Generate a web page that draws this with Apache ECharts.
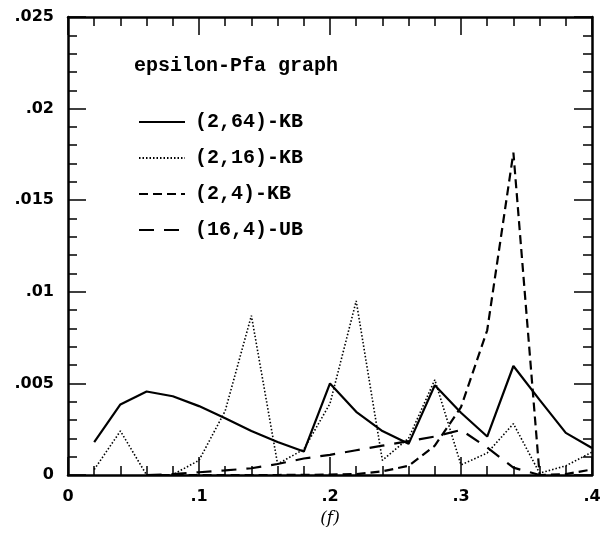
<!DOCTYPE html>
<html>
<head>
<meta charset="utf-8">
<script src="https://cdn.jsdelivr.net/npm/echarts@6/dist/echarts.min.js"></script>
<style>
  html, body { margin: 0; padding: 0; background: #fff; }
  #chart { width: 609px; height: 533px; }
</style>
</head>
<body>
<div id="chart"></div>
<script>
// frequency (f) sample points
const freqs = [0.02, 0.04, 0.06, 0.08, 0.10, 0.12, 0.14, 0.16, 0.18, 0.20,
               0.22, 0.24, 0.26, 0.28, 0.30, 0.32, 0.34, 0.36, 0.38, 0.40]

const kb264 = [0.0018, 0.00385, 0.00456, 0.0043, 0.00376, 0.0031, 0.0024, 0.0018, 0.00128, 0.0050,
               0.00345, 0.0024, 0.0017, 0.0049, 0.0034, 0.0021, 0.00595, 0.0041, 0.0023, 0.00147]
const kb216 = [0.0003, 0.0024, 0.0, 0.00002, 0.0008, 0.0035, 0.0087, 0.0006, 0.0014, 0.0039,
               0.0095, 0.0008, 0.002, 0.0052, 0.00055, 0.0012, 0.0028, 0.0001, 0.0005, 0.00125]
const kb24 = [null, null, 0.0, 0.0, 0.0, 0.0, 0.0, 0.0, 0.00001, 0.00002,
              0.00005, 0.0002, 0.0005, 0.0016, 0.0037, 0.0079, 0.0176, 0.0, 0.00005, 0.0003]
const ub164 = [null, null, 0.0, 0.00005, 0.00015, 0.00025, 0.00037, 0.0006, 0.0009, 0.0011,
               0.00135, 0.0016, 0.00185, 0.0021, 0.00246, 0.0015, 0.0004, 0.0, null, null]

const xTickLabels = ['0', '.1', '.2', '.3', '.4']
const yTickLabels = ['0', '.005', '.01', '.015', '.02', '.025']

const pairs = vals => freqs.map((f, i) => [f, vals[i]])

const chart = echarts.init(document.getElementById('chart'))

const tickFont = { color: '#000', fontFamily: 'DejaVu Sans', fontWeight: 'bold', fontSize: 16 }
const monoFont = { fontFamily: 'Liberation Mono', fontWeight: 'bold', fontSize: 20, color: '#000' }

// common axis look: box frame, inward ticks
const frame = {
  axisLine: { show: true, onZero: false, lineStyle: { color: '#000', width: 2.5 } },
  axisTick: { show: true, inside: true, length: 18, lineStyle: { color: '#000', width: 1.5 } },
  minorTick: { show: true, splitNumber: 5, length: 9, lineStyle: { color: '#000', width: 1.5 } },
  splitLine: { show: false }
}

const xBase = Object.assign({ type: 'value', min: 0, max: 0.4, interval: 0.1 }, frame)
const yBase = Object.assign({ type: 'value', min: 0, max: 0.025, interval: 0.005 }, frame)

const option = {
  animation: false,
  title: {
    text: 'epsilon-Pfa graph',
    left: 129,
    top: 51,
    textStyle: monoFont
  },
  legend: {
    orient: 'vertical',
    left: 133,
    top: 107,
    itemWidth: 46,
    itemHeight: 14,
    itemGap: 16,
    itemStyle: { opacity: 0 },
    textStyle: Object.assign({ padding: [0, 0, 0, 5] }, monoFont),
    data: ['(2,64)-KB', '(2,16)-KB', '(2,4)-KB', '(16,4)-UB']
  },
  grid: { left: 68, right: 17, top: 17, bottom: 58 },
  xAxis: [
    Object.assign({}, xBase, {
      position: 'bottom',
      name: '(f)',
      nameLocation: 'middle',
      nameGap: 31,
      nameTextStyle: { fontFamily: 'DejaVu Serif', fontSize: 17, color: '#000', fontStyle: 'italic' },
      axisLabel: Object.assign({ margin: 14, formatter: v => xTickLabels[Math.round(v / 0.1)] }, tickFont)
    }),
    Object.assign({}, xBase, { position: 'top', axisLabel: { show: false } })
  ],
  yAxis: [
    Object.assign({}, yBase, {
      position: 'left',
      axisLabel: Object.assign({ margin: 14, formatter: v => yTickLabels[Math.round(v / 0.005)] }, tickFont)
    }),
    Object.assign({}, yBase, { position: 'right', axisLabel: { show: false } })
  ],
  series: [
    {
      name: '(2,64)-KB', type: 'line', symbol: 'none', data: pairs(kb264),
      itemStyle: { color: '#000' },
      lineStyle: { color: '#000', width: 2.2, type: 'solid' }
    },
    {
      name: '(2,16)-KB', type: 'line', symbol: 'none', data: pairs(kb216),
      itemStyle: { color: '#000' },
      lineStyle: { color: '#000', width: 1.6, type: [1.5, 2] }
    },
    {
      name: '(2,4)-KB', type: 'line', symbol: 'none', data: pairs(kb24),
      itemStyle: { color: '#000' },
      lineStyle: { color: '#000', width: 2.2, type: [9, 5] }
    },
    {
      name: '(16,4)-UB', type: 'line', symbol: 'none', data: pairs(ub164),
      itemStyle: { color: '#000' },
      lineStyle: { color: '#000', width: 2.2, type: [15, 10] }
    }
  ]
}

chart.setOption(option)
</script>
</body>
</html>
